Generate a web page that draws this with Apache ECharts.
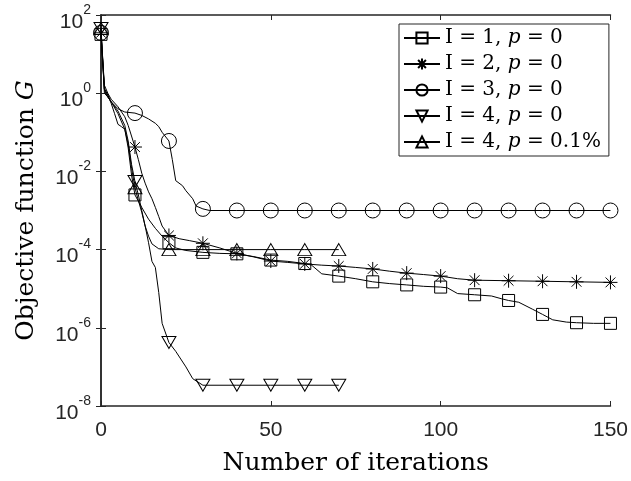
<!DOCTYPE html>
<html>
<head>
<meta charset="utf-8">
<script src="https://cdn.jsdelivr.net/npm/echarts@6/dist/echarts.min.js"></script>
<style>
  html, body { margin: 0; padding: 0; background: #fff; }
  #chart { width: 631px; height: 481px; }
</style>
</head>
<body>
<div id="chart"></div>
<script>
// iteration numbers and objective values
const itersI1 = [0, 1, 2, 3, 4, 5, 6, 7, 8, 9, 10, 12, 14, 16, 18, 20, 22, 25, 30, 35, 40, 45, 50, 55, 60, 62, 65, 70, 75, 80, 85, 90, 95, 100, 102, 105, 110, 115, 118, 120, 123, 127, 130, 133, 137, 140, 145, 150];
const gI1 = [32, 1.3, 0.9, 0.55, 0.3, 0.16, 0.14, 0.12, 0.04, 0.008, 2.5e-3, 1.2e-3, 6e-4, 3.5e-4, 2.2e-4, 1.5e-4, 1.1e-4, 9.5e-5, 8.5e-5, 8e-5, 7.8e-5, 6.6e-5, 5.4e-5, 5e-5, 4.4e-5, 4e-5, 2.4e-5, 2.1e-5, 1.8e-5, 1.5e-5, 1.35e-5, 1.25e-5, 1.15e-5, 1.1e-5, 1.05e-5, 7.5e-6, 7e-6, 6.5e-6, 5.5e-6, 5e-6, 4.5e-6, 3e-6, 2.2e-6, 1.6e-6, 1.4e-6, 1.35e-6, 1.3e-6, 1.3e-6];

const itersI2 = [0, 1, 2, 3, 5, 7, 8, 10, 11, 12, 13, 14, 15, 16, 17, 18, 20, 23, 26, 30, 35, 40, 45, 50, 55, 60, 65, 70, 75, 80, 85, 90, 95, 100, 105, 110, 120, 130, 140, 150];
const gI2 = [35, 1.6, 1.0, 0.7, 0.45, 0.25, 0.15, 0.042, 0.02, 9e-3, 5e-3, 3e-3, 2e-3, 1.2e-3, 7e-4, 4e-4, 2.3e-4, 1.9e-4, 1.7e-4, 1.45e-4, 1.1e-4, 8e-5, 6.5e-5, 5.1e-5, 4.7e-5, 4.3e-5, 4e-5, 3.8e-5, 3.5e-5, 3.2e-5, 2.8e-5, 2.5e-5, 2.3e-5, 2.1e-5, 1.8e-5, 1.65e-5, 1.6e-5, 1.55e-5, 1.5e-5, 1.45e-5];

const itersI3 = [0, 1, 2, 3, 5, 7, 10, 12, 14, 16, 17, 18, 20, 21, 22, 24, 25, 27, 28, 30, 32, 40, 50, 60, 70, 80, 90, 100, 110, 120, 130, 140, 150];
const gI3 = [35, 1.2, 0.8, 0.6, 0.4, 0.33, 0.31, 0.27, 0.22, 0.17, 0.14, 0.1, 0.06, 0.02, 5.8e-3, 4.3e-3, 3.2e-3, 2e-3, 1.3e-3, 1.1e-3, 1e-3, 1e-3, 1e-3, 1e-3, 1e-3, 1e-3, 1e-3, 1e-3, 1e-3, 1e-3, 1e-3, 1e-3, 1e-3];

const itersI4 = [0, 1, 2, 3, 5, 7, 8, 9, 10, 11, 12, 13, 14, 15, 16, 17, 18, 20, 22, 25, 27, 30, 40, 50, 60, 70];
const gI4 = [45, 1.3, 0.9, 0.6, 0.35, 0.15, 0.06, 0.015, 5.5e-3, 2.5e-3, 1e-3, 4e-4, 1.5e-4, 5e-5, 3.5e-5, 8e-6, 1.3e-6, 4.2e-7, 2.5e-7, 1e-7, 5e-8, 3.4e-8, 3.4e-8, 3.4e-8, 3.4e-8, 3.4e-8];

const itersI4n = [0, 1, 2, 3, 5, 7, 8, 9, 10, 11, 12, 13, 14, 15, 17, 20, 30, 40, 50, 60, 70];
const gI4n = [45, 1.0, 0.8, 0.6, 0.3, 0.12, 0.05, 0.012, 3.8e-3, 1.8e-3, 9e-4, 4e-4, 2.2e-4, 1.4e-4, 1.05e-4, 1e-4, 1e-4, 1e-4, 1e-4, 1e-4, 1e-4];

const seriesNames = ['I = 1, p = 0', 'I = 2, p = 0', 'I = 3, p = 0', 'I = 4, p = 0', 'I = 4, p = 0.1%'];
const xTicks = [0, 50, 100, 150];

const axisColor = '#262626';
const serif = 'DejaVu Serif';
const sans = 'Liberation Sans';

// markers only every 10 iterations, like MarkerIndices in matlab
const toData = (xs, ys) => xs.map((x, i) => (x % 10 === 0 ? [x, ys[i]] : { value: [x, ys[i]], symbol: 'none' }));

const makeSeries = (name, xs, ys, symbol, size) => ({
    name: name,
    type: 'line',
    data: toData(xs, ys),
    symbol: symbol,
    symbolSize: size,
    showSymbol: true,
    showAllSymbol: true,
    clip: false,
    lineStyle: { color: '#000', width: 1 },
    itemStyle: { color: 'rgba(0,0,0,0)', borderColor: '#000', borderWidth: 1 },
    emphasis: { disabled: true },
    z: 3
});

const series = [
    makeSeries(seriesNames[0], itersI1, gI1, 'rect', 12),
    makeSeries(seriesNames[1], itersI2, gI2, 'path://M5,0L5,10M0,5L10,5M1.5,1.5L8.5,8.5M1.5,8.5L8.5,1.5', 14),
    makeSeries(seriesNames[2], itersI3, gI3, 'circle', 15),
    makeSeries(seriesNames[3], itersI4, gI4, 'path://M0,0L14,0L7,12Z', [14, 12]),
    makeSeries(seriesNames[4], itersI4n, gI4n, 'path://M7,0L14,12L0,12Z', [14, 12])
];

const yLabel = (v) => {
    const e = Math.round(Math.log10(v));
    return '{b|10}{s|' + e + '}';
};

const chart = echarts.init(document.getElementById('chart'));
chart.setOption({
    animation: false,
    backgroundColor: '#fff',
    grid: { left: 101, right: 16, top: 15, bottom: 72 },
    legend: {
        orient: 'vertical',
        left: 399,
        top: 24,
        padding: [4, 8, 4, 4],
        itemGap: 6,
        itemWidth: 36,
        itemHeight: 14,
        backgroundColor: '#fff',
        borderColor: axisColor,
        borderWidth: 1,
        data: seriesNames,
        formatter: (name) => name.replace('p', '{i|p}'),
        textStyle: {
            fontFamily: serif,
            fontSize: 20,
            color: '#000',
            rich: {
                i: { fontFamily: serif, fontSize: 20, fontStyle: 'italic', color: '#000' }
            }
        }
    },
    xAxis: [
        {
            type: 'value',
            min: 0,
            max: 150,
            interval: 50,
            name: 'Number of iterations',
            nameLocation: 'middle',
            nameGap: 45,
            nameTextStyle: { fontFamily: serif, fontSize: 25, color: '#000' },
            axisLine: { show: true, lineStyle: { color: axisColor, width: 1.5 } },
            axisTick: { inside: true, length: 5, lineStyle: { color: axisColor } },
            axisLabel: {
                margin: 14,
                fontFamily: sans,
                fontSize: 21,
                color: axisColor,
                formatter: (v) => (xTicks.indexOf(v) >= 0 ? String(v) : '')
            },
            splitLine: { show: false }
        },
        {
            type: 'value',
            position: 'top',
            min: 0,
            max: 150,
            interval: 50,
            axisLine: { show: true, lineStyle: { color: axisColor, width: 1.5 } },
            axisTick: { inside: true, length: 5, lineStyle: { color: axisColor } },
            axisLabel: { show: false },
            splitLine: { show: false }
        }
    ],
    yAxis: [
        {
            type: 'log',
            logBase: 10,
            min: 1e-8,
            max: 1e2,
            interval: 2,
            name: 'Objective function {i|G}',
            nameLocation: 'middle',
            nameGap: 62,
            nameTextStyle: {
                fontFamily: serif,
                fontSize: 25,
                color: '#000',
                rich: { i: { fontFamily: serif, fontSize: 25, fontStyle: 'italic', color: '#000' } }
            },
            axisLine: { show: true, lineStyle: { color: axisColor, width: 1.5 } },
            axisTick: { inside: true, length: 5, lineStyle: { color: axisColor } },
            axisLabel: {
                margin: 10,
                color: axisColor,
                formatter: yLabel,
                rich: {
                    b: { fontFamily: sans, fontSize: 21, color: axisColor, padding: [14, 0, 0, 0] },
                    s: { fontFamily: sans, fontSize: 14, color: axisColor, padding: [0, 0, 10, 0] }
                }
            },
            splitLine: { show: false }
        },
        {
            type: 'log',
            logBase: 10,
            position: 'right',
            min: 1e-8,
            max: 1e2,
            interval: 2,
            axisLine: { show: true, lineStyle: { color: axisColor, width: 1.5 } },
            axisTick: { inside: true, length: 5, lineStyle: { color: axisColor } },
            axisLabel: { show: false },
            splitLine: { show: false }
        }
    ],
    series: series
});
</script>
</body>
</html>
